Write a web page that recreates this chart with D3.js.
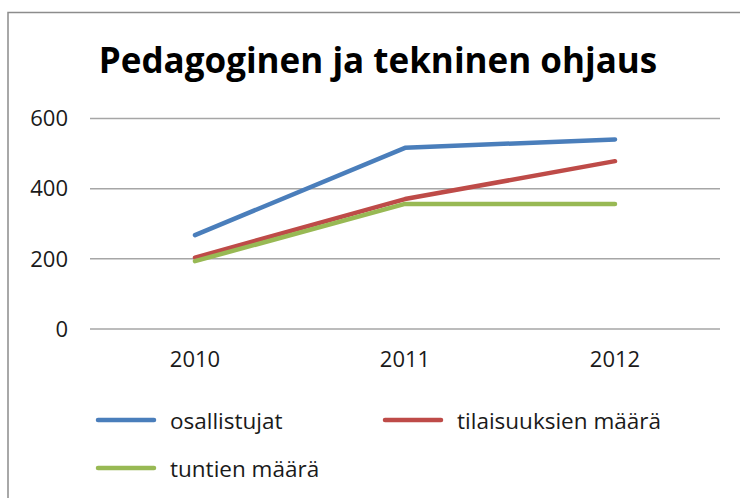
<!DOCTYPE html>
<html>
<head>
<meta charset="utf-8">
<script src="https://cdn.jsdelivr.net/npm/d3@7"></script>
<style>
body { margin: 0; background: #fff; }
svg text { font-family: "Open Sans", "Liberation Sans", sans-serif; fill: #1a1a1a; }
</style>
</head>
<body>
<svg id="chart" width="740" height="498"></svg>
<script>
var years = ["2010", "2011", "2012"];
var osallistujat = [266, 515, 539];
var tilaisuudet = [202, 369, 477];
var tunnit = [192, 355, 355];
var yTicks = [0, 200, 400, 600];

var series = [
	{nimi: "osallistujat", arvot: osallistujat, vari: "#4a7ebb"},
	{nimi: "tilaisuuksien määrä", arvot: tilaisuudet, vari: "#be4b48"},
	{nimi: "tuntien määrä", arvot: tunnit, vari: "#98b954"}
];

var svg = d3.select("#chart");

// kehys
svg.append("rect")
	.attr("x", 8).attr("y", 12.5)
	.attr("width", 800).attr("height", 600)
	.attr("fill", "none")
	.attr("stroke", "#8c8c8c")
	.attr("stroke-width", 1.5);

svg.append("text")
	.attr("x", 378).attr("y", 73)
	.attr("text-anchor", "middle")
	.style("font-weight", "bold")
	.style("font-size", "35px")
	.style("fill", "#000")
	.text("Pedagoginen ja tekninen ohjaus");

var x = d3.scaleBand().domain(years).range([90, 720]);
var y = d3.scaleLinear().domain([0, 600]).range([328.5, 118]);

var yAxis = svg.append("g")
	.attr("transform", "translate(90,0)")
	.call(d3.axisLeft(y).tickValues(yTicks).tickSize(-630).tickPadding(22).tickFormat(d3.format("d")));
yAxis.select(".domain").remove();
yAxis.selectAll("line").attr("stroke", "#a6a6a6").attr("stroke-width", 1.5);
yAxis.selectAll("text").style("font-size", "22px").attr("dy", "0.35em");

var xAxis = svg.append("g")
	.attr("transform", "translate(0,328.5)")
	.call(d3.axisBottom(x).tickSize(0).tickPadding(23));
xAxis.select(".domain").remove();
xAxis.selectAll("text").style("font-size", "22px");

var line = d3.line()
	.x(function(d, i) { return x(years[i]) + x.bandwidth() / 2; })
	.y(function(d) { return y(d); });

svg.selectAll("path.sarja")
	.data(series)
	.enter().append("path")
	.attr("class", "sarja")
	.attr("d", function(d) { return line(d.arvot); })
	.attr("fill", "none")
	.attr("stroke", function(d) { return d.vari; })
	.attr("stroke-width", 4.5)
	.attr("stroke-linecap", "round")
	.attr("stroke-linejoin", "round");

// selite
var legendPos = [[98, 420], [385, 420], [98, 468]];
var leg = svg.selectAll("g.selite")
	.data(series)
	.enter().append("g")
	.attr("class", "selite")
	.attr("transform", function(d, i) { return "translate(" + legendPos[i][0] + "," + legendPos[i][1] + ")"; });
leg.append("line")
	.attr("x1", 0).attr("x2", 56)
	.attr("stroke", function(d) { return d.vari; })
	.attr("stroke-width", 4.5)
	.attr("stroke-linecap", "round");
leg.append("text")
	.attr("x", 72).attr("y", 0)
	.attr("dy", "0.38em")
	.style("font-size", "22.5px")
	.text(function(d) { return d.nimi; });
</script>
</body>
</html>
